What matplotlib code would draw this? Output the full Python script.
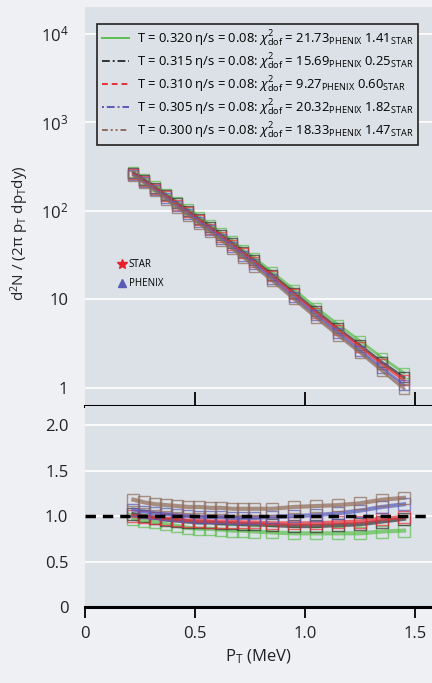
import matplotlib
matplotlib.use("Agg")
import matplotlib.pyplot as plt
from matplotlib.lines import Line2D

plt.rcParams['font.family'] = ['Open Sans', 'DejaVu Sans']
plt.rcParams['mathtext.fontset'] = 'custom'
plt.rcParams['mathtext.rm'] = 'Open Sans'
plt.rcParams['mathtext.it'] = 'Open Sans:italic'
plt.rcParams['mathtext.bf'] = 'Open Sans:bold'

# transverse momentum bins (GeV)
pt = [0.22, 0.27, 0.32, 0.37, 0.42, 0.47, 0.52, 0.57, 0.62, 0.67, 0.72, 0.77,
      0.85, 0.95, 1.05, 1.15, 1.25, 1.35, 1.45]

temps = ['0.320', '0.315', '0.310', '0.305', '0.300']
chi_phenix = ['21.73', '15.69', '9.27', '20.32', '18.33']
chi_star = ['1.41', '0.25', '0.60', '1.82', '1.47']

# spectra for each temperature
spec_320 = [275, 229, 190, 155, 126, 105, 85, 69, 56, 46, 36, 29.5,
            20.4, 12.9, 8.1, 5.2, 3.4, 2.2, 1.48]
spec_315 = [268, 222, 182, 149, 121, 99, 80, 65, 53, 43, 34, 27.5,
            19.0, 11.9, 7.4, 4.7, 3.05, 1.95, 1.32]
spec_310 = [262, 216, 178, 145, 117, 96, 78, 63, 51, 41, 33, 26.5,
            18.3, 11.4, 7.1, 4.5, 2.9, 1.85, 1.22]
spec_305 = [255, 209, 171, 139, 112, 92, 74, 60, 48.5, 39, 31, 25,
            17.2, 10.6, 6.6, 4.2, 2.65, 1.68, 1.08]
spec_300 = [250, 204, 166, 134, 108, 88, 71, 57, 46, 37, 29.5, 23.5,
            16.2, 10.0, 6.2, 3.9, 2.5, 1.55, 0.98]

# data / model ratios
ratio_320 = [0.97, 0.95, 0.93, 0.91, 0.89, 0.87, 0.86, 0.86, 0.85, 0.84, 0.84, 0.83,
             0.82, 0.81, 0.81, 0.81, 0.81, 0.83, 0.84]
ratio_315 = [1.02, 1.00, 0.98, 0.96, 0.95, 0.94, 0.93, 0.93, 0.92, 0.92, 0.91, 0.91,
             0.90, 0.89, 0.89, 0.90, 0.91, 0.94, 0.97]
ratio_310 = [1.00, 0.99, 0.98, 0.97, 0.96, 0.95, 0.95, 0.94, 0.94, 0.94, 0.93, 0.93,
             0.92, 0.92, 0.92, 0.93, 0.94, 0.97, 0.99]
ratio_305 = [1.07, 1.05, 1.03, 1.02, 1.01, 1.00, 0.99, 0.99, 0.99, 0.98, 0.98, 0.98,
             0.99, 1.00, 1.01, 1.03, 1.06, 1.10, 1.13]
ratio_300 = [1.18, 1.15, 1.13, 1.12, 1.11, 1.10, 1.10, 1.09, 1.09, 1.08, 1.08, 1.08,
             1.08, 1.10, 1.11, 1.12, 1.14, 1.18, 1.20]

spectra = [spec_320, spec_315, spec_310, spec_305, spec_300]
ratios = [ratio_320, ratio_315, ratio_310, ratio_305, ratio_300]
colors = ['#5cbf4e', '#333333', '#e8303a', '#5a5ab8', '#8f6a58']
styles = ['-', (0, (4, 1.5, 1, 1.5)), (0, (3, 2)), (0, (1, 1.5, 4, 1.5)), (0, (3, 1.5, 1, 1.5, 1, 1.5))]

panel = '#dce1e7'
fig = plt.figure(figsize=(4.32, 6.83), dpi=100, facecolor='#eef0f3')
ax1 = fig.add_axes([85/432, 1 - 406/683, 347/432, 399/683], facecolor=panel)
ax2 = fig.add_axes([85/432, 1 - 607/683, 347/432, 201/683], facecolor=panel)

for i in range(5):
    lab = ('T = %s η/s = 0.08: $\\chi^2_{\\rm dof}$ = %s$_{\\rm PHENIX}$ %s$_{\\rm STAR}$'
           % (temps[i], chi_phenix[i], chi_star[i]))
    ax1.plot(pt, spectra[i], color=colors[i], lw=2, alpha=0.75, zorder=3)
    ax1.plot(pt, spectra[i], ls='none', marker='s', ms=7, mfc='none',
             mec=colors[i], mew=1, alpha=0.7, zorder=3)
    ax1.plot([], [], color=colors[i], ls=styles[i], lw=1.4, label=lab)
    ax2.plot(pt, ratios[i], color=colors[i], lw=3, alpha=0.7, zorder=3)
    ax2.plot(pt, ratios[i], ls='none', marker='s', ms=8, mfc='none',
             mec=colors[i], mew=1, alpha=0.7, zorder=3)

ax1.set_yscale('log')
ax1.set_xlim(0, 1.577)
ax1.set_ylim(10**-0.203, 10**4.30)
ax1.set_yticks([1, 10, 100, 1000, 10000])
ax1.set_yticklabels(['1', '10', '10$^2$', '10$^3$', '10$^4$'])
ax1.minorticks_off()
ax1.set_xticks([0.5, 1.0, 1.5])
ax1.tick_params(axis='x', direction='inout', length=20, width=1.3, labelbottom=False, color='black')
ax1.tick_params(axis='y', length=0, pad=12, labelsize=12, labelcolor='#222222')
ax1.grid(axis='y', color='white', lw=1.2)
ax1.set_axisbelow(True)
for s in ['top', 'right', 'left']:
    ax1.spines[s].set_visible(False)
ax1.spines['bottom'].set_linewidth(2.2)
ax1.spines['bottom'].set_zorder(5)

leg = ax1.legend(loc='upper left', bbox_to_anchor=(0.035, 0.957), fontsize=9.4,
                 frameon=True, fancybox=False, edgecolor='#222222', facecolor=panel,
                 framealpha=1, handlelength=2.1, borderpad=0.35, labelspacing=0.2,
                 handletextpad=0.6, borderaxespad=0)
leg.get_frame().set_linewidth(1.2)

marks = [Line2D([], [], ls='none', marker='*', color='#e8202a', ms=7),
         Line2D([], [], ls='none', marker='^', color='#5a5ab8', ms=6)]
leg2 = ax1.legend(marks, ['STAR', 'PHENIX'], loc='center left', bbox_to_anchor=(0.07, 0.33),
                  frameon=False, fontsize=7, handlelength=0.8, handletextpad=0.3, labelspacing=0.8)
ax1.add_artist(leg)

ax2.axhline(1.0, color='black', lw=2.5, ls=(0, (3, 2)), zorder=4)
ax2.set_xlim(0, 1.577)
ax2.set_ylim(0, 2.21)
ax2.set_yticks([0, 0.5, 1.0, 1.5, 2.0])
ax2.set_yticklabels(['0', '0.5', '1.0', '1.5', '2.0'])
ax2.set_xticks([0, 0.5, 1.0, 1.5])
ax2.set_xticklabels(['0', '0.5', '1.0', '1.5'])
ax2.tick_params(axis='x', direction='out', length=8, width=1.3, labelsize=12, pad=6, labelcolor='#222222')
ax2.tick_params(axis='y', length=0, pad=12, labelsize=12, labelcolor='#222222')
ax2.grid(axis='y', color='white', lw=1.2)
ax2.set_axisbelow(True)
for s in ['top', 'right', 'left']:
    ax2.spines[s].set_visible(False)
ax2.spines['bottom'].set_linewidth(2.2)
ax2.set_xlabel('P$_{\\rm T}$ (MeV)', fontsize=12, color='#222222', labelpad=4)

fig.text(20/432, 1 - 233/683, 'd$^2$N / (2π p$_{\\rm T}$ dp$_{\\rm T}$dy)', rotation=90,
         ha='center', va='center', fontsize=11, color='#222222')

fig.savefig('out.png', dpi=100, facecolor=fig.get_facecolor())
